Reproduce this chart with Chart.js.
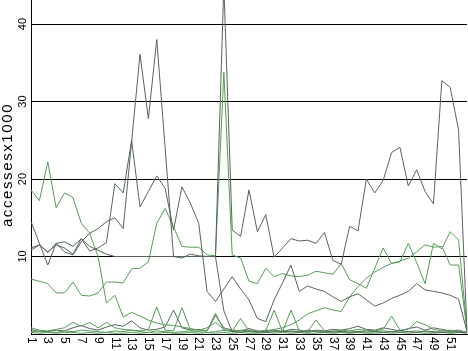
<!DOCTYPE html>
<html>
<head>
<meta charset="utf-8">
<script src="https://cdn.jsdelivr.net/npm/chart.js@4"></script>
<style>
  body { margin: 0; background: #fff; }
  canvas { display: block; }
</style>
</head>
<body>
<canvas id="accessChart" width="468" height="351"></canvas>
<script>
// Categories 1..53
const categories = ["1","2","3","4","5","6","7","8","9","10","11","12","13","14","15","16","17","18","19","20",
  "21","22","23","24","25","26","27","28","29","30","31","32","33","34","35","36","37","38","39","40",
  "41","42","43","44","45","46","47","48","49","50","51","52","53"];

// Y tick labels
const yTicks = [10, 20, 30, 40];
const yTitle = "accessesx1000";

// Series (accesses x1000)
const seriesD1 = [14.5, 11.7, 8.9, 11.7, 10.6, 10.2, 11.9, 13, 13.6, 14.5, 15, 13.6, 24.8, 36.1, 27.8, 38, 24, 10, 9.8, 10.3,
  10.1, 10, 10, 45, 13.4, 12.6, 18.6, 13.2, 15.4, 9.9, 11.1, 12.3, 12, 12.1, 11.7, 13.1, 9.5, 9, 13.9, 13.3,
  20, 18.2, 19.8, 23.4, 24.1, 19.1, 21.2, 18.4, 16.8, 32.7, 31.8, 26.3, 0.3];
const seriesD2 = [11.1, 11.5, 10.6, 11.5, 11.1, 10.3, 12.3, 10.7, 11.1, 11.8, 19.4, 18.2, 25, 16.4, 18.4, 20.4, 18.8, 13.4, 19, 16.9,
  14.3, 5.5, 4.2, 5.8, 7.4, 5.8, 4.4, 2, 1.6, 4.4, 6.6, 8.9, 5.5, 6.2, 5.8, 5.5, 4.8, 4.2, 4.8, 5.2,
  4.4, 3.6, 4, 4.6, 5, 5.5, 6.5, 5.7, 5.5, 5.3, 5, 4.5, 0.3];
const seriesD3 = [10.8, 11.5, 10.5, 11.7, 11.9, 11.3, 12.3, 11.3, 10.8, 10.3, 10, 10, 10, 10, 10, 10, 10, 10, 10, 10,
  10, 10, 10, 3, 0.3, 0.2, 0.4, 0.3, 0.2, 0.3, 0.4, 0.3, 0.2, 0.5, 0.3, 0.2, 0.4, 0.3, 0.2, 0.3,
  0.4, 0.3, 0.2, 0.3, 0.4, 0.3, 0.2, 0.4, 0.3, 0.2, 0.3, 0.2, 0.2];
const seriesG1 = [18.6, 17.2, 22.2, 16.3, 18.2, 17.6, 14.3, 13, 10, 4, 5, 2.2, 2.8, 2.3, 1.8, 1.4, 1.2, 1.1, 0.9, 0.7,
  0.5, 0.8, 1.5, 0.6, 0.3, 0.5, 0.4, 0.3, 0.5, 0.4, 0.3, 0.4, 0.3, 0.2, 0.4, 0.3, 0.2, 0.3, 0.4, 0.3,
  0.2, 0.3, 0.4, 0.3, 0.2, 0.3, 0.4, 0.3, 0.2, 0.3, 0.2, 0.3, 0.2];
const seriesG2 = [7.1, 6.8, 6.5, 5.3, 5.3, 6.7, 5, 4.9, 5.3, 6.7, 6.7, 6.6, 8.4, 8.5, 9.3, 14.3, 16.2, 13.8, 11.3, 11.2,
  11.2, 10.2, 10.1, 33.8, 10.2, 9.8, 6.8, 6.5, 8.5, 7.4, 7.8, 7.5, 7.4, 7.6, 8.1, 7.9, 7.7, 9.1, 7, 6.5,
  5.9, 8.5, 11.1, 9.1, 9.3, 11.7, 9.2, 6.5, 11.7, 11, 13.2, 12.1, 0.5];
const seriesG3 = [0.3, 0.4, 0.3, 0.2, 0.4, 0.3, 0.5, 0.4, 0.3, 0.2, 0.4, 0.3, 0.5, 0.3, 0.2, 0.4, 0.3, 0.2, 0.3, 0.4,
  0.3, 0.2, 0.3, 0.5, 0.3, 0.4, 0.3, 0.2, 0.4, 0.6, 0.8, 1.2, 1.8, 2.6, 3, 3.4, 3.1, 2.9, 4.8, 6.1,
  7.2, 8, 8.6, 9.1, 9.4, 9.8, 10.6, 11.5, 11.2, 11.3, 8.9, 8.9, 0.5];
const seriesL1 = [0.8, 0.5, 0.4, 0.6, 0.8, 1.5, 1, 1.5, 0.8, 1.5, 0.8, 0.6, 0.5, 0.4, 0.6, 3.5, 0.5, 0.4, 3.4, 0.6,
  0.5, 0.4, 2.7, 0.5, 0.4, 2, 0.4, 0.3, 0.4, 3.1, 0.3, 3.1, 0.4, 0.3, 1.8, 0.4, 0.3, 0.5, 0.4, 0.6,
  0.5, 0.4, 0.6, 2.3, 0.5, 0.6, 1.6, 1.2, 0.6, 0.4, 0.5, 0.3, 0.2];
const seriesL2 = [0.6, 0.3, 0.3, 0.5, 0.4, 0.8, 1.1, 0.7, 0.5, 0.9, 1.2, 1, 1.7, 0.8, 0.5, 0.6, 0.9, 3.1, 0.8, 0.5,
  0.6, 0.4, 2.4, 0.8, 0.5, 0.4, 0.7, 0.4, 0.3, 0.5, 0.3, 0.6, 0.5, 0.3, 0.5, 0.4, 0.6, 0.5, 0.7, 1,
  0.6, 0.5, 0.8, 0.6, 0.4, 0.7, 0.9, 0.5, 0.8, 0.6, 0.4, 0.5, 0.2];
const seriesL3 = [0.2, 0.1, 0.2, 0.1, 0.2, 0.2, 0.1, 0.2, 0.1, 0.2, 0.1, 0.1, 0.2, 0.1, 0.2, 0.1, 0.2, 0.1, 0.1, 0.2,
  0.1, 0.2, 0.1, 0.2, 0.1, 0.2, 0.1, 0.1, 0.2, 0.1, 0.2, 0.1, 0.2, 0.1, 0.1, 0.2, 0.1, 0.2, 0.1, 0.2,
  0.1, 0.1, 0.2, 0.1, 0.2, 0.1, 0.2, 0.1, 0.1, 0.2, 0.1, 0.2, 0.1];

const darkColor = "#56655a";
const greenColor = "#589a58";

const datasets = [
  { data: seriesD1, borderColor: darkColor },
  { data: seriesD2, borderColor: darkColor },
  { data: seriesD3, borderColor: darkColor },
  { data: seriesG1, borderColor: greenColor },
  { data: seriesG2, borderColor: greenColor },
  { data: seriesG3, borderColor: greenColor },
  { data: seriesL1, borderColor: greenColor },
  { data: seriesL2, borderColor: darkColor },
  { data: seriesL3, borderColor: greenColor },
].map((d) => ({ ...d, borderWidth: 1, pointRadius: 0, tension: 0, fill: false }));

// Axis texts drawn rotated, positioned from the chart's own scales
const axisText = {
  id: "axisText",
  afterDraw(chart) {
    const ctx = chart.ctx;
    const x = chart.scales.x;
    const y = chart.scales.y;
    ctx.save();
    ctx.fillStyle = "#000";
    ctx.font = "11px 'Liberation Sans', Arial, sans-serif";

    // y tick labels, reading bottom to top
    ctx.textAlign = "center";
    ctx.textBaseline = "middle";
    yTicks.forEach((v) => {
      ctx.save();
      ctx.translate(23, y.getPixelForValue(v));
      ctx.rotate(-Math.PI / 2);
      ctx.fillText(String(v), 0, 0);
      ctx.restore();
    });

    // x labels, every other category, reading top to bottom
    ctx.font = "12px 'Liberation Sans', Arial, sans-serif";
    ctx.textAlign = "left";
    categories.forEach((c, i) => {
      if (i % 2 !== 0 || i > 50) return;
      ctx.save();
      ctx.translate(x.getPixelForTick(i), chart.chartArea.bottom + 3);
      ctx.rotate(Math.PI / 2);
      ctx.fillText(c, 0, 0);
      ctx.restore();
    });

    // y title
    ctx.font = "15px 'Liberation Sans', Arial, sans-serif";
    ctx.letterSpacing = "1.6px";
    ctx.textAlign = "center";
    ctx.save();
    ctx.translate(8, 165);
    ctx.rotate(-Math.PI / 2);
    ctx.fillText(yTitle, 0, 0);
    ctx.restore();
    ctx.restore();
  },
};

new Chart(document.getElementById("accessChart"), {
  type: "line",
  data: { labels: categories, datasets: datasets },
  options: {
    responsive: false,
    animation: false,
    layout: { padding: { left: 31, right: 1, top: 0, bottom: 17 } },
    plugins: { legend: { display: false }, tooltip: { enabled: false } },
    scales: {
      x: {
        offset: false,
        grid: { display: false, drawTicks: false },
        border: { display: true, color: "#000" },
        ticks: { display: false },
      },
      y: {
        min: 0,
        max: 43.1,
        grid: { color: "#000", drawTicks: false },
        border: { display: true, color: "#000" },
        ticks: { display: false, stepSize: 10, includeBounds: false },
      },
    },
  },
  plugins: [axisText],
});
</script>
</body>
</html>
